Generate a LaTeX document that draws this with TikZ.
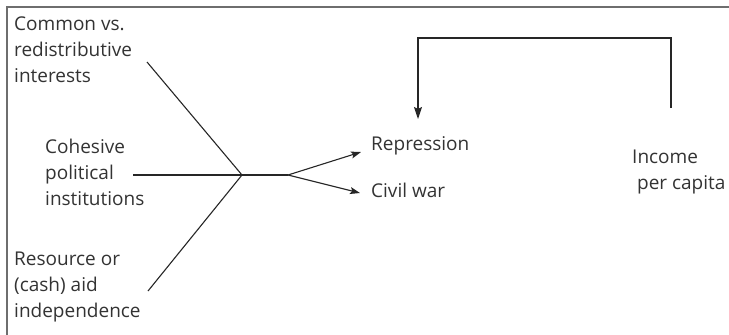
\documentclass[tikz,border=0pt]{standalone}
\usepackage{fontspec}
\setmainfont{Open Sans}
\usetikzlibrary{arrows.meta}
\definecolor{ink}{HTML}{333333}
\definecolor{framegray}{HTML}{6E6E6E}
\begin{document}
\begin{tikzpicture}[x=1pt,y=-1pt,
  label/.style={anchor=base west,inner sep=0pt,align=left,text=ink,
    font=\fontsize{19}{26}\selectfont},
  link/.style={draw=black!85,line width=1.1pt},
  tip/.style={-{Stealth[length=10pt,width=7pt,inset=2pt]}},
  downtip/.style={-{Stealth[length=12pt,width=8pt,inset=2pt]}}]
  \useasboundingbox (0,0) rectangle (729,335);
  \clip (0,0) rectangle (729,335);
  % open frame: left and top edges
  \draw[framegray,line width=2pt] (7,335) -- (7,7) -- (729,7);

  % causes (anchored at the baseline of the last line)
  \node[label] (common) at (14,82) {Common vs.\\redistributive\\interests};
  \node[label] (cohesive) at (45,205) {Cohesive\\political\\institutions};
  \node[label] (resource) at (14,317) {Resource or\\(cash) aid\\independence};

  % outcomes
  \node[label] (repr) at (371,150) {Repression};
  \node[label] (civil) at (371,197) {Civil war};
  \node[label] (income) at (632,189) {Income\\\ per capita};

  % converging lines and fork
  \coordinate (cEnd) at (147,62);
  \coordinate (pEnd) at (133,175);
  \coordinate (rEnd) at (148,291);
  \coordinate (join) at (242,175);
  \coordinate (fork) at (288,175);
  \coordinate (reprIn) at (361,152);
  \coordinate (civilIn) at (360,193);
  \draw[link] (cEnd) -- (join) -- (rEnd);
  \draw[link] (pEnd) -- (join) -- (fork);
  \draw[link,tip] (fork) -- (reprIn);
  \draw[link,tip] (fork) -- (civilIn);

  % feedback from income to repression
  \coordinate (incTop) at (671,108);
  \coordinate (rightUp) at (671,38);
  \coordinate (leftUp) at (418,38);
  \coordinate (reprTop) at (418,119);
  \draw[link,downtip] (incTop) -- (rightUp) -- (leftUp) -- (reprTop);
\end{tikzpicture}
\end{document}
